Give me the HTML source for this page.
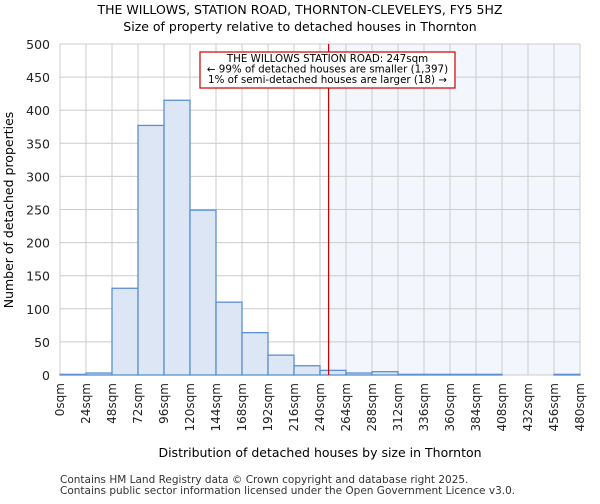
<!DOCTYPE html>
<html><head><meta charset="utf-8"><style>
body{margin:0;background:#fff;font-family:"DejaVu Sans","Liberation Sans",sans-serif}
</style></head><body>
<svg id="chart" width="600" height="500" xmlns="http://www.w3.org/2000/svg" font-family="DejaVu Sans, Liberation Sans, sans-serif">
<text x="300" y="14" text-anchor="middle" font-size="12.5">THE WILLOWS, STATION ROAD, THORNTON-CLEVELEYS, FY5 5HZ</text>
<text x="300" y="31" text-anchor="middle" font-size="12.5">Size of property relative to detached houses in Thornton</text>
<g id="plot"></g>
<text x="320" y="457" text-anchor="middle" font-size="12.5">Distribution of detached houses by size in Thornton</text>
<text transform="translate(13,210) rotate(-90)" text-anchor="middle" font-size="12.5">Number of detached properties</text>
<text x="60" y="483" font-size="10.5" fill="#333">Contains HM Land Registry data © Crown copyright and database right 2025.</text>
<text x="60" y="494" font-size="10.5" fill="#333">Contains public sector information licensed under the Open Government Licence v3.0.</text>
</svg>
<script>
const binStarts=[0,24,48,72,96,120,144,168,192,216,240,264,288,312,336,360,384,408,432,456];
const counts=[1,3,131,377,415,249,110,64,30,14,7,3,5,1,1,1,1,0,0,1];
const xTicks=[0,24,48,72,96,120,144,168,192,216,240,264,288,312,336,360,384,408,432,456,480];
const yTicks=[0,50,100,150,200,250,300,350,400,450,500];
const propertySize=247;
const NS="http://www.w3.org/2000/svg";
const L=60,R=580,T=44,B=375;
const xs=v=>L+(v-0)/480*(R-L);
const ys=v=>B-v/500*(B-T);
const g=document.getElementById('plot');
function mk(tag,attrs){const e=document.createElementNS(NS,tag);for(const k in attrs)e.setAttribute(k,attrs[k]);g.appendChild(e);return e;}
let sh=mk('rect',{x:xs(propertySize),y:T,width:R-xs(propertySize),height:B-T,fill:'#f3f6fd'});


xTicks.forEach(t=>{let l=mk('line',{x1:xs(t),x2:xs(t),y1:T,y2:B,stroke:'#cccccc'});


let tx=mk('text',{transform:`translate(${xs(t)+4},${B+8}) rotate(-90)`,'text-anchor':'end','font-size':'12',fill:'#222'});tx.textContent=t+'sqm';

});
yTicks.forEach(t=>{let l=mk('line',{x1:L,x2:R,y1:ys(t),y2:ys(t),stroke:'#cccccc'});


let tx=mk('text',{x:L-10,y:ys(t)+5,'text-anchor':'end','font-size':'12.5',fill:'#222'});tx.textContent=t;

});
binStarts.forEach((s,i)=>{if(counts[i]<=0)return;let r=mk('rect',{x:xs(s),y:ys(counts[i]),width:xs(s+24)-xs(s),height:B-ys(counts[i]),fill:'#dce6f4',stroke:'#5b8fd6','stroke-width':1.3});

});
let ml=mk('line',{x1:xs(propertySize)+1,x2:xs(propertySize)+1,y1:T,y2:B,stroke:'#cc0000','stroke-width':1.2});


let box=mk('rect',{x:200,y:52,width:255,height:36,fill:'#fff',stroke:'#cc0000','stroke-width':1.2});


['THE WILLOWS STATION ROAD: 247sqm','← 99% of detached houses are smaller (1,397)','1% of semi-detached houses are larger (18) →'].forEach((s,i)=>{let t=mk('text',{x:327.5,y:62+i*10.5,'text-anchor':'middle','font-size':'10.3','textLength':i==0?'':''});t.removeAttribute('textLength');t.textContent=s;

});
</script>
</body></html>
